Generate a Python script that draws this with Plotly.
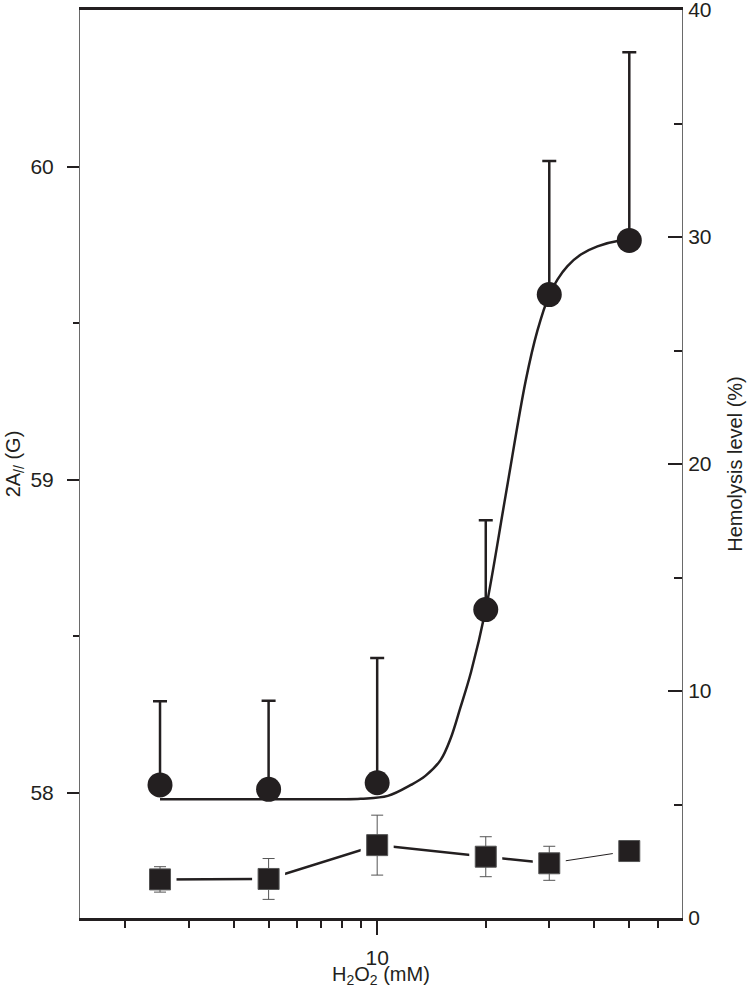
import math
import plotly.graph_objects as go

# H2O2 concentration (mM)
conc = [2.5, 5, 10, 20, 30, 50]

# 2A// (G) - circles, upper error bars only
a_par = [58.025, 58.011, 58.032, 58.585, 59.591, 59.764]
a_par_err = [0.267, 0.283, 0.398, 0.285, 0.427, 0.601]

# hemolysis level (%) - squares
hemo = [1.70, 1.72, 3.21, 2.70, 2.41, 2.95]
hemo_err = [0.56, 0.90, 1.32, 0.88, 0.75, 0.0]

# fitted sigmoid through the circles
fit_x = [2.5, 6, 9, 10.7, 12.4, 13.6, 15.0, 16.0, 17.0, 18.2, 20, 22.7, 25.8, 27.8, 30,
         31.6, 33.7, 36.7, 40.8, 46.4, 50]
fit_y = [57.979, 57.979, 57.981, 57.990, 58.025, 58.054, 58.105, 58.175, 58.271, 58.385, 58.586,
         58.949, 59.315, 59.475, 59.59, 59.639, 59.682, 59.719, 59.745, 59.762, 59.764]

x_major = [10]
x_minor = [2, 3, 4, 5, 6, 7, 8, 9, 20, 30, 40, 50, 60]
y_major = [58, 59, 60]
y_minor = [58.5, 59.5]
y2_major = [0, 10, 20, 30, 40]
y2_minor = [5, 15, 25, 35]

ink = '#231f20'
grey = '#6a6a6a'

fig = go.Figure()

# fit curve
fig.add_trace(go.Scatter(x=fit_x, y=fit_y, mode='lines', line=dict(color=ink, width=2.5, shape='spline'),
                         hoverinfo='skip'))

# circles
fig.add_trace(go.Scatter(x=conc, y=a_par, mode='markers',
                         marker=dict(symbol='circle', size=25, color=ink),
                         error_y=dict(type='data', symmetric=False, array=a_par_err,
                                      arrayminus=[0] * len(a_par_err),
                                      thickness=2.5, width=7, color=ink)))

# square connecting lines (last segment thinner)
fig.add_trace(go.Scatter(x=conc[:5], y=hemo[:5], mode='lines', yaxis='y2',
                         line=dict(color=ink, width=2.5), hoverinfo='skip'))
fig.add_trace(go.Scatter(x=conc[4:], y=hemo[4:], mode='lines', yaxis='y2',
                         line=dict(color=ink, width=1), hoverinfo='skip'))
# white halo so the lines stop short of the squares
fig.add_trace(go.Scatter(x=conc, y=hemo, mode='markers', yaxis='y2',
                         marker=dict(symbol='square', size=33, color='white', line=dict(width=0)),
                         hoverinfo='skip'))
# squares
fig.add_trace(go.Scatter(x=conc, y=hemo, mode='markers', yaxis='y2',
                         marker=dict(symbol='square', size=21, color=ink, line=dict(width=1, color='#555')),
                         error_y=dict(type='data', array=hemo_err, thickness=1, width=6, color='#555')))

fig.update_layout(
    width=750, height=990,
    margin=dict(l=80, r=68, t=10, b=72),
    plot_bgcolor='white', paper_bgcolor='white',
    showlegend=False,
    font=dict(family='Liberation Sans, Arial, sans-serif', size=21, color=ink),
    xaxis=dict(type='log', range=[math.log10(1.5), math.log10(70)],
               tickmode='array', tickvals=x_major, ticktext=['10'],
               ticks='outside', ticklen=14, tickwidth=2, tickcolor=ink,
               minor=dict(tickvals=x_minor, ticks='outside', ticklen=7, tickwidth=2,
                          tickcolor=ink, showgrid=False),
               showline=True, linewidth=2.5, linecolor=ink, mirror=True,
               showgrid=False, zeroline=False, ticklabelstandoff=5, automargin=False),
    yaxis=dict(range=[57.6, 60.5], tickmode='array', tickvals=y_major,
               ticks='outside', ticklen=12, tickwidth=2, tickcolor=ink,
               minor=dict(tickvals=y_minor, ticks='outside', ticklen=6, tickwidth=2,
                          tickcolor=ink, showgrid=False),
               showline=True, linewidth=1, linecolor=grey,
               showgrid=False, zeroline=False, ticklabelstandoff=9, automargin=False,
               title=dict(text='2A<sub>//</sub> (G)', standoff=4, font=dict(size=20))),
    yaxis2=dict(range=[0, 40], overlaying='y', side='right', tickmode='array', tickvals=y2_major,
                ticks='inside', ticklen=14, tickwidth=2, tickcolor=ink,
                minor=dict(tickvals=y2_minor, ticks='inside', ticklen=8, tickwidth=2,
                           tickcolor=ink, showgrid=False),
                showline=True, linewidth=1, linecolor=grey,
                showgrid=False, zeroline=False, ticklabelstandoff=1, ticklabeloverflow='allow',
                automargin=False,
                title=dict(text='Hemolysis level (%)', standoff=17, font=dict(size=20))),
)

# x title as an annotation so it can sit close under the "10" label
fig.add_annotation(text='H<sub>2</sub>O<sub>2</sub> (mM)', xref='paper', yref='paper',
                   x=0.5, y=0, yanchor='middle', yshift=-57, showarrow=False,
                   font=dict(size=20))

# drop the default 8px body margin so the figure fills the window
fig.write_html("out.html", config={'displayModeBar': False},
               post_script="document.body.style.margin='0px';")
